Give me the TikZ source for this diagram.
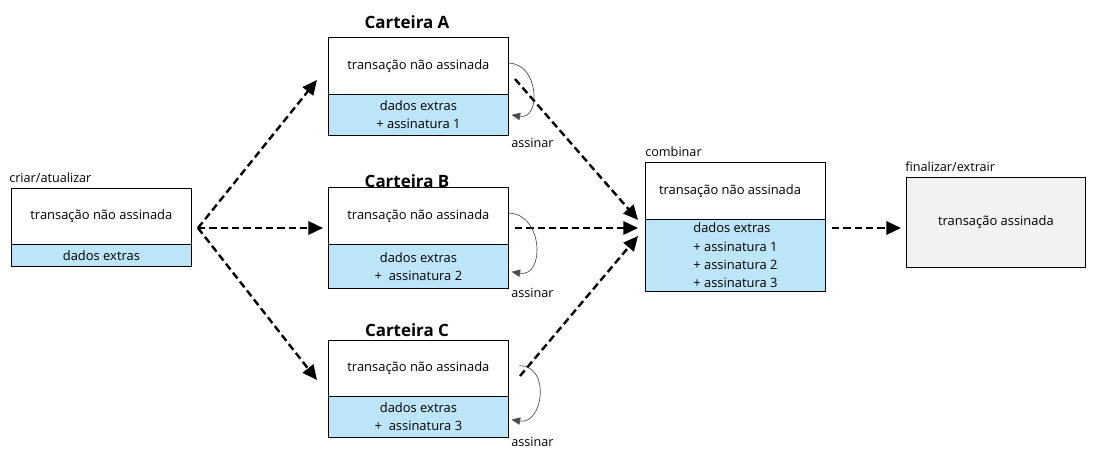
\documentclass[tikz,border=0pt]{standalone}
\usepackage{fontspec}
\setmainfont{Open Sans}
\usepackage{tikz}
\usetikzlibrary{arrows.meta, positioning}

\definecolor{xblue}{RGB}{189,229,248}
\definecolor{xgray}{RGB}{242,242,242}

\tikzset{
  txpart/.style={draw, fill=white, line width=0.6pt, minimum width=135pt, inner sep=0pt, anchor=north west, align=center, font=\fontsize{9.7}{13.8}\selectfont},
  extrapart/.style={txpart, fill=xblue},
  walletname/.style={font=\fontsize{12.7}{14}\selectfont\bfseries},
  steplabel/.style={anchor=south west, inner sep=0pt, font=\fontsize{9.5}{11}\selectfont},
  flow/.style={-{Triangle[length=11pt,width=10pt]}, dash pattern=on 5.5pt off 3pt, line width=1.8pt},
  signarc/.style={-{Triangle[length=6.5pt,width=5.5pt]}, draw=black!70, line width=0.5pt},
}

\begin{document}
\begin{tikzpicture}[x=0.75pt,y=0.75pt,yscale=-1,xscale=1]
\useasboundingbox (0,0) rectangle (1098,454);

% criar / atualizar
\node[txpart, minimum height=42pt] (topI) at (11,188) {transação não assinada};
\node[extrapart, minimum height=16.5pt] (extI) at (11,244) {dados extras};
\node[steplabel] at (9,183) {criar/atualizar};

% Carteira A
\node[txpart, minimum height=42.75pt] (topA) at (328,37) {transação não assinada};
\node[extrapart, minimum height=30.75pt] (extA) at (328,94) {dados extras\\+ assinatura 1};
\node[walletname] at (407,22) {Carteira A};

% Carteira B
\node[txpart, minimum height=42.75pt] (topB) at (328,187) {transação não assinada};
\node[extrapart, minimum height=33pt] (extB) at (328,244) {dados extras\\+\ \ assinatura 2};
\node[walletname] at (407,181) {Carteira B};

% Carteira C
\node[txpart, minimum height=42pt] (topC) at (328,340) {transação não assinada};
\node[extrapart, minimum height=30.75pt] (extC) at (328,396) {dados extras\\+\ \ assinatura 3};
\node[walletname] at (407,330) {Carteira C};

% combinar
\node[txpart, minimum height=42.75pt] (topM) at (645,162) {transação não assinada\hspace{8pt}};
\node[extrapart, minimum height=54pt, align=left] (extM) at (645,219) {dados extras\\+ assinatura 1\\+ assinatura 2\\+ assinatura 3\hspace{6pt}};
\node[steplabel] at (645,157) {combinar};

% finalizar / extrair
\node[txpart, fill=xgray, minimum height=67.5pt, minimum width=134.25pt] (final) at (906,177) {transação assinada};
\node[steplabel] at (905,172) {finalizar/extrair};

% ends of the dashed flow
\coordinate (fork) at (198,228);
\coordinate (inA) at (317,80);
\coordinate (inB) at (323,228);
\coordinate (inC) at (317,380);
\coordinate (outA) at (515,79);
\coordinate (outB) at (515,228);
\coordinate (outC) at (520,376);
\coordinate (inM) at (638,220);
\coordinate (inM2) at (638,228);
\coordinate (inM3) at (638,236);
\coordinate (outM) at (832,228);
\coordinate (inF) at (901,228);

\draw[flow] (fork) -- (inA);
\draw[flow] (fork) -- (inB);
\draw[flow] (fork) -- (inC);
\draw[flow] (outA) -- (inM);
\draw[flow] (outB) -- (inM2);
\draw[flow] (outC) -- (inM3);
\draw[flow] (outM) -- (inF);

% assinar
\draw[signarc] ([yshift=-2]topA.east) to[out=0,in=10,looseness=1.5] ([xshift=2]extA.east);
\draw[signarc] ([yshift=-2]topB.east) to[out=0,in=10,looseness=1.5] ([xshift=2,yshift=4]extB.east);
\draw[signarc] ([xshift=8,yshift=-2]topC.east) to[out=0,in=10,looseness=1.5] ([xshift=2,yshift=2]extC.east);
\node[steplabel] at (511,148) {assinar};
\node[steplabel] at (511,298) {assinar};
\node[steplabel] at (511,447) {assinar};

\end{tikzpicture}
\end{document}
